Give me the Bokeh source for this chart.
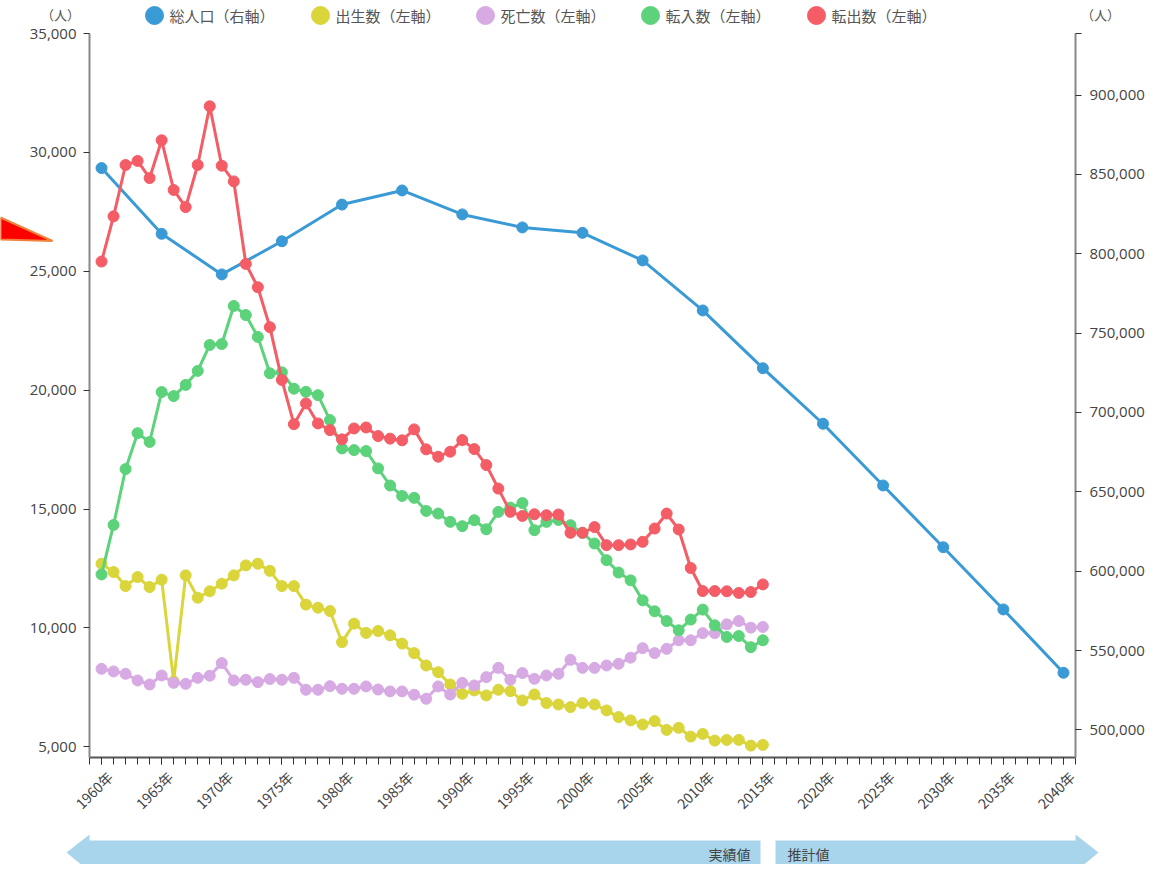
import math
from bokeh.plotting import figure
from bokeh.models import (Range1d, LinearAxis, SingleIntervalTicker, FixedTicker,
                          NumeralTickFormatter, CustomJSTickFormatter)
from bokeh.core.properties import value
from bokeh.embed import file_html
from bokeh.resources import INLINE

# ---------------- data ----------------
years_actual = list(range(1960, 2016))
years_pop = list(range(1960, 2041, 5))

total_population = [854000, 812600, 787000, 807900, 831000, 839900, 824800, 816600, 813200,
                    795800, 764300, 727900, 692900, 654000, 615100, 575900, 536000]

births = [12700, 12350, 11760, 12140, 11720, 12030, 7750, 12210, 11270, 11540,
          11860, 12210, 12630, 12700, 12400, 11760, 11760, 10980, 10850, 10710,
          9400, 10180, 9790, 9870, 9690, 9340, 8940, 8420, 8140, 7620,
          7230, 7370, 7160, 7400, 7340, 6950, 7200, 6840, 6780, 6670,
          6840, 6780, 6530, 6250, 6110, 5940, 6080, 5710, 5800, 5430,
          5540, 5260, 5290, 5290, 5050, 5080]

deaths = [8280, 8170, 8070, 7790, 7620, 8000, 7690, 7650, 7900, 7990,
          8520, 7790, 7820, 7720, 7850, 7820, 7900, 7400, 7400, 7550,
          7440, 7440, 7540, 7410, 7330, 7330, 7190, 7020, 7540, 7200,
          7690, 7580, 7930, 8320, 7820, 8100, 7860, 8000, 8070, 8660,
          8320, 8320, 8420, 8490, 8750, 9150, 8940, 9120, 9480, 9480,
          9780, 9780, 10150, 10290, 10010, 10040]

moved_in = [12250, 14330, 16680, 18190, 17820, 19920, 19750, 20220, 20810, 21900,
            21940, 23540, 23160, 22240, 20710, 20750, 20060, 19930, 19790, 18740,
            17550, 17480, 17440, 16710, 15990, 15550, 15470, 14920, 14810, 14460,
            14280, 14530, 14150, 14880, 15060, 15250, 14110, 14460, 14540, 14320,
            14000, 13550, 12850, 12330, 12000, 11160, 10700, 10290, 9900, 10350,
            10770, 10110, 9620, 9660, 9190, 9480]

moved_out = [25410, 27310, 29470, 29640, 28920, 30510, 28420, 27700, 29470, 31940,
             29440, 28780, 25310, 24330, 22650, 20430, 18570, 19440, 18600, 18320,
             17930, 18390, 18430, 18070, 17960, 17890, 18350, 17510, 17200, 17410,
             17900, 17520, 16850, 15860, 14880, 14710, 14780, 14740, 14770, 14000,
             14000, 14240, 13480, 13480, 13510, 13620, 14180, 14810, 14140, 12520,
             11550, 11550, 11540, 11470, 11510, 11830]

left_ticks = [5000, 10000, 15000, 20000, 25000, 30000, 35000]
right_ticks = [500000, 550000, 600000, 650000, 700000, 750000, 800000, 850000, 900000]

series_names = ["総人口（右軸）", "出生数（左軸）", "死亡数（左軸）", "転入数（左軸）", "転出数（左軸）"]
series_colors = ["#3a9ad6", "#dad53a", "#d7aae4", "#5cd27a", "#f45c66"]
arrow_labels = ["実績値", "推計値"]
unit_label = "（人）"

# ---------------- layout geometry (page pixels) ----------------
JP = "Noto Sans CJK JP"
CANVAS_W, CANVAS_H = 1170, 864
PAGE_OFF = 0
PX0, PX1 = 89, 1075      # plot area left/right on the page
PY0, PY1 = 33, 757       # plot area top/bottom on the page
X_LO, X_HI = 1959, 2041
YL_LO, YL_HI = 4550, 35000
YR_LO, YR_HI = 482600, 938800


def X(px):
    return X_LO + (px - PX0) * (X_HI - X_LO) / (PX1 - PX0)


def Y(py):
    return YL_HI - (py - PY0) * (YL_HI - YL_LO) / (PY1 - PY0)


def YR(py):
    return YR_HI - (py - PY0) * (YR_HI - YR_LO) / (PY1 - PY0)


p = figure(frame_width=CANVAS_W, frame_height=CANVAS_H, title=None,
           min_border_left=0, min_border_right=0, min_border_top=0, min_border_bottom=0,
           x_range=Range1d(X(PAGE_OFF), X(PAGE_OFF + CANVAS_W)),
           y_range=Range1d(Y(PAGE_OFF + CANVAS_H), Y(PAGE_OFF)),
           output_backend="svg", toolbar_location=None)
p.min_border = 0
p.extra_y_ranges = {"pop": Range1d(YR(PAGE_OFF + CANVAS_H), YR(PAGE_OFF))}
p.xgrid.visible = False
p.ygrid.visible = False
p.outline_line_color = None
p.background_fill_color = "white"
p.border_fill_color = "white"

# x axis
xa = p.xaxis[0]
xa.fixed_location = YL_LO
xa.bounds = (X_LO, X_HI)
xa.ticker = SingleIntervalTicker(interval=5, num_minor_ticks=5)
xa.formatter = CustomJSTickFormatter(code="return '\\n' + tick + '年';")
xa.major_label_orientation = math.pi / 4
xa.major_label_text_font = JP
xa.major_label_text_font_size = "14px"
xa.major_label_text_color = "#444444"
xa.major_label_standoff = 1
xa.axis_line_color = "#555555"
xa.axis_line_width = 2
xa.major_tick_in = 0
xa.minor_tick_in = 0
xa.major_tick_out = 7
xa.minor_tick_out = 7
xa.major_tick_line_color = "#333333"
xa.minor_tick_line_color = "#333333"

# left axis
ya = p.yaxis[0]
ya.fixed_location = X_LO
ya.bounds = (YL_LO, YL_HI)
ya.ticker = FixedTicker(ticks=left_ticks)
ya.formatter = NumeralTickFormatter(format="0,0")
ya.major_label_text_font = "Open Sans"
ya.major_label_text_font_size = "15px"
ya.major_label_text_color = "#444444"
ya.major_label_standoff = 7
ya.axis_line_color = "#888888"
ya.axis_line_width = 2
ya.major_tick_in = 0
ya.major_tick_out = 6
ya.major_tick_line_color = "#333333"
ya.minor_tick_line_color = None

# right axis
ra = LinearAxis(y_range_name="pop", ticker=FixedTicker(ticks=right_ticks + [YR_HI]),
                formatter=NumeralTickFormatter(format="0,0"),
                major_label_overrides={YR_HI: ""})
ra.fixed_location = X_HI
ra.bounds = (YR_LO, YR_HI)
ra.major_label_text_font = "Open Sans"
ra.major_label_text_font_size = "15px"
ra.major_label_text_color = "#444444"
ra.major_label_standoff = 8
ra.axis_line_color = "#888888"
ra.axis_line_width = 2
ra.major_tick_in = 0
ra.major_tick_out = 6
ra.major_tick_line_color = "#333333"
ra.minor_tick_line_color = None
p.add_layout(ra, "right")

# ---------------- decorations behind the data ----------------
arrow_col = "#a9d5ec"
left_arrow_x = [66, 89, 89, 760, 760, 89, 89]
left_arrow_y = [852, 834, 840, 840, 866, 866, 871]
right_arrow_x = [775, 1075, 1075, 1098, 1075, 1075, 775]
right_arrow_y = [840, 840, 834, 852, 871, 866, 866]
p.patches(xs=[[X(v) for v in left_arrow_x], [X(v) for v in right_arrow_x]],
          ys=[[Y(v) for v in left_arrow_y], [Y(v) for v in right_arrow_y]],
          fill_color=arrow_col, line_color=None)
p.text(x=[X(750)], y=[Y(853)], text=[arrow_labels[0]], text_font=value(JP),
       text_font_size=value("14px"), text_color="#444444",
       text_align=value("right"), text_baseline=value("middle"))
p.text(x=[X(787)], y=[Y(853)], text=[arrow_labels[1]], text_font=value(JP),
       text_font_size=value("14px"), text_color="#444444",
       text_align=value("left"), text_baseline=value("middle"))

# red pointer at the left edge
tri_x = [0, 52, 0]
tri_y = [217, 240.5, 239]
p.patch(x=[X(v) for v in tri_x], y=[Y(v) for v in tri_y],
        fill_color="#ff0000", line_color="#f0843c", line_width=2)

# legend
leg_cx = [154, 320, 485, 650, 816]
leg_tx = [169, 335, 500, 665, 831]
p.scatter(x=[X(v) for v in leg_cx], y=[Y(15)] * 5, size=18,
          fill_color=series_colors, line_color=series_colors)
p.text(x=[X(v) for v in leg_tx], y=[Y(15)] * 5, text=series_names, text_font=value(JP),
       text_font_size=value("15px"), text_color="#555555",
       text_align=value("left"), text_baseline=value("middle"))

# unit labels
p.text(x=[X(60), X(1100)], y=[Y(14), Y(14)], text=[unit_label, unit_label], text_font=value(JP),
       text_font_size=value("13px"), text_color="#555555",
       text_align=value("center"), text_baseline=value("middle"))

# ---------------- series ----------------
p.line(years_pop, total_population, y_range_name="pop", line_color=series_colors[0], line_width=3)
p.scatter(years_pop, total_population, y_range_name="pop", size=11,
          fill_color=series_colors[0], line_color=series_colors[0])

for vals, col in [(births, series_colors[1]), (deaths, series_colors[2]),
                  (moved_in, series_colors[3]), (moved_out, series_colors[4])]:
    p.line(years_actual, vals, line_color=col, line_width=3)
    p.scatter(years_actual, vals, size=11, fill_color=col, line_color=col)

open("out.html", "w").write(file_html(p, INLINE))
